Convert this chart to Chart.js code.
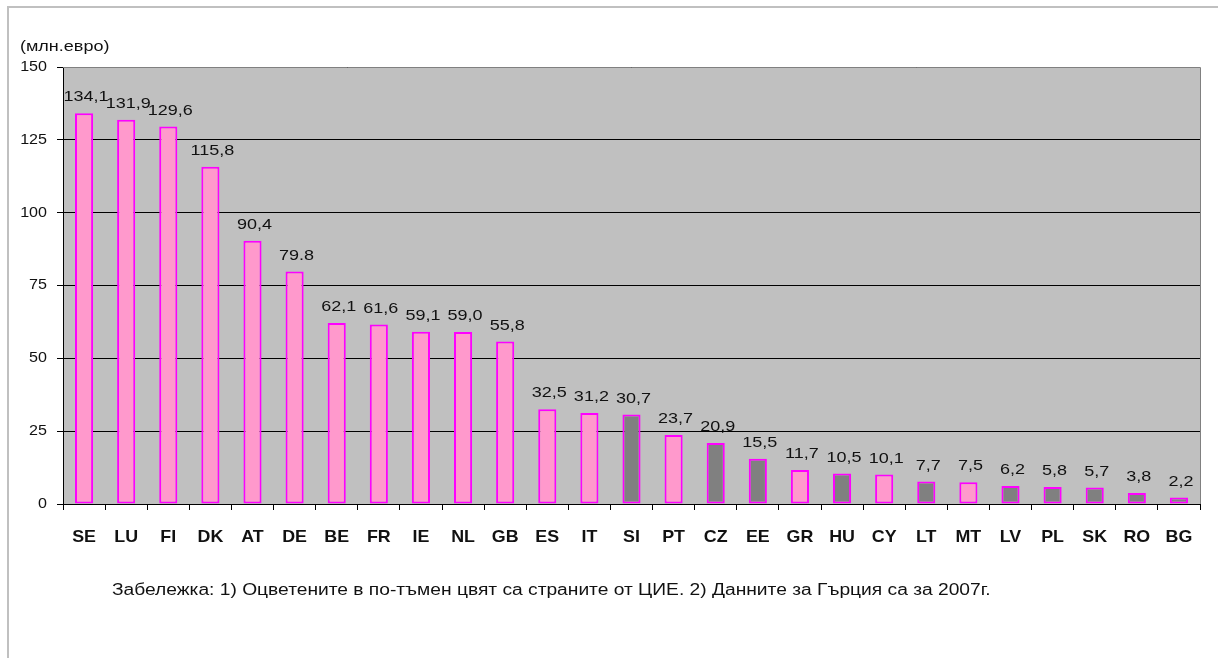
<!DOCTYPE html>
<html>
<head>
<meta charset="utf-8">
<script src="https://cdn.jsdelivr.net/npm/chart.js@4.4.0/dist/chart.umd.min.js"></script>
<style>
  html, body { margin: 0; padding: 0; background: #fff; }
  #wrap { width: 1218px; height: 658px; position: relative; }
</style>
</head>
<body>
<div id="wrap"><canvas id="chart"></canvas></div>
<script>
// country codes, values (млн. евро), and which ones are CEE (darker colour)
const countries = ['SE','LU','FI','DK','AT','DE','BE','FR','IE','NL','GB','ES','IT','SI','PT','CZ','EE','GR','HU','CY','LT','MT','LV','PL','SK','RO','BG'];
const values = [134.1, 131.9, 129.6, 115.8, 90.4, 79.8, 62.1, 61.6, 59.1, 59.0, 55.8, 32.5, 31.2, 30.7, 23.7, 20.9, 15.5, 11.7, 10.5, 10.1, 7.7, 7.5, 6.2, 5.8, 5.7, 3.8, 2.2];
const valueLabels = ['134,1','131,9','129,6','115,8','90,4','79.8','62,1','61,6','59,1','59,0','55,8','32,5','31,2','30,7','23,7','20,9','15,5','11,7','10,5','10,1','7,7','7,5','6,2','5,8','5,7','3,8','2,2'];
const ceeCountries = ['SI','CZ','EE','HU','LT','LV','PL','SK','RO','BG'];
const yTicks = [0, 25, 50, 75, 100, 125, 150];
const unitText = '(млн.евро)';
const noteText = 'Забележка: 1) Оцветените в по-тъмен цвят са страните от ЦИЕ. 2) Данните за Гърция са за 2007г.';

const FONT = '"Liberation Sans", Arial, sans-serif';
const PINK = '#ff99cc';
const DARK = '#808080';
const MAGENTA = '#ff00ff';

// draw text a little wider than normal (the original's small text is wider than plain Arial)
function wideText(ctx, text, x, y, align, sx) {
    ctx.save();
    ctx.translate(x, y);
    ctx.scale(sx, 1);
    ctx.textAlign = align;
    ctx.fillText(text, 0, 0);
    ctx.restore();
}

// grey background, grey frame, all the texts
const decorations = {
    id: 'decorations',
    beforeDraw(chart) {
        const { ctx, chartArea: a } = chart;
        ctx.save();
        ctx.fillStyle = '#c0c0c0';
        ctx.fillRect(a.left, a.top, a.right - a.left, a.bottom - a.top);
        ctx.restore();
    },
    afterDraw(chart) {
        const { ctx, chartArea: a } = chart;
        const xs = chart.scales.x, ys = chart.scales.y;
        ctx.save();
        // plot border top/right
        ctx.strokeStyle = '#808080';
        ctx.lineWidth = 1;
        ctx.beginPath();
        ctx.moveTo(a.left, a.top + 0.5);
        ctx.lineTo(a.right + 0.5, a.top + 0.5);
        ctx.lineTo(a.right + 0.5, a.bottom);
        ctx.stroke();
        // outer frame
        ctx.strokeStyle = '#c0c0c0';
        ctx.lineWidth = 2;
        ctx.beginPath();
        ctx.moveTo(8, chart.height);
        ctx.lineTo(8, 7);
        ctx.lineTo(chart.width, 7);
        ctx.stroke();

        ctx.fillStyle = '#111';
        ctx.textBaseline = 'middle';

        ctx.font = '15px ' + FONT;
        wideText(ctx, unitText, 20, 47, 'left', 1.2);
        ctx.font = '16px ' + FONT;
        wideText(ctx, noteText, 112, 591, 'left', 1.2);

        // y tick labels
        ctx.font = '14px ' + FONT;
        yTicks.forEach(v => wideText(ctx, String(v), 47, ys.getPixelForValue(v), 'right', 1.15));

        // x category labels
        ctx.font = 'bold 17px ' + FONT;
        countries.forEach((c, i) => wideText(ctx, c, xs.getPixelForValue(i), 537, 'center', 1.05));

        // value labels
        ctx.font = '15px ' + FONT;
        const meta = chart.getDatasetMeta(0);
        meta.data.forEach((bar, i) => wideText(ctx, valueLabels[i], bar.x + 2, bar.y - 16, 'center', 1.2));
        ctx.restore();
    }
};

new Chart(document.getElementById('chart'), {
    type: 'bar',
    data: {
        labels: countries,
        datasets: [{
            data: values,
            backgroundColor: countries.map(c => ceeCountries.includes(c) ? DARK : PINK),
            borderColor: MAGENTA,
            borderWidth: 2,
            borderSkipped: false,
            barPercentage: 0.43,
            categoryPercentage: 1
        }]
    },
    options: {
        responsive: true,
        maintainAspectRatio: false,
        animation: false,
        layout: { padding: { left: 8, right: 18, top: 67, bottom: 112 } },
        plugins: { legend: { display: false }, tooltip: { enabled: false } },
        scales: {
            x: {
                afterFit: s => { s.height = 42; },
                grid: { drawOnChartArea: false, color: '#000', tickLength: 6, offset: true },
                border: { color: '#000', width: 1 },
                ticks: { display: false }
            },
            y: {
                min: 0,
                max: 150,
                afterFit: s => { s.width = 55; },
                afterBuildTicks: s => { s.ticks = yTicks.map(v => ({ value: v })); },
                grid: { color: '#000', tickLength: 6 },
                border: { color: '#000', width: 1 },
                ticks: { display: false }
            }
        }
    },
    plugins: [decorations]
});
</script>
</body>
</html>
